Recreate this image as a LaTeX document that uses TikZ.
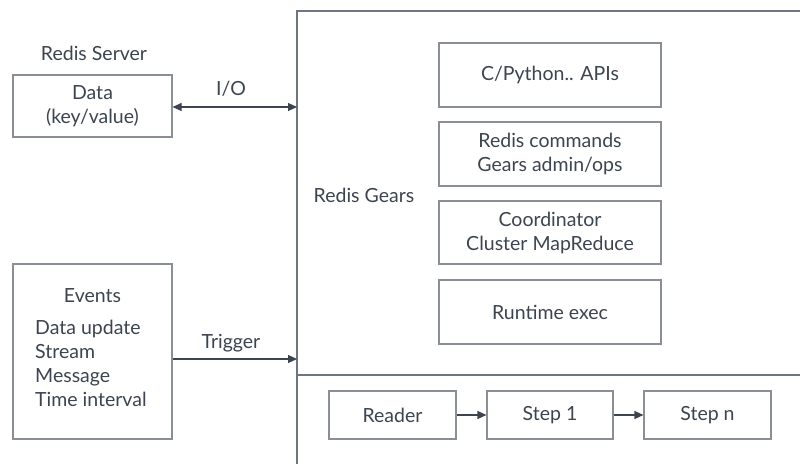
\documentclass[tikz,border=0pt]{standalone}
\usepackage{fontspec}
\setmainfont{Lato}
\usetikzlibrary{arrows.meta}
\definecolor{txt}{HTML}{3C4450}
\definecolor{boxc}{HTML}{8A8F96}
\definecolor{framec}{HTML}{6E7580}
\definecolor{arr}{HTML}{3D4450}
\begin{document}
\begin{tikzpicture}[x=1pt,y=-1pt,
  every node/.style={font=\fontsize{19.5}{24}\selectfont, text=txt},
  bx/.style={draw=boxc, line width=1.1pt, inner sep=0pt, align=center},
  lbl/.style={inner sep=0pt, align=center},
  conn/.style={draw=arr, line width=1.1pt, -{Triangle[length=9pt,width=8pt]}},
  frame/.style={draw=framec, line width=1.2pt}]
\useasboundingbox (0,0) rectangle (800,464);
% big frame
\draw[frame] (800,11) -- (297,11) -- (297,464);
\draw[frame] (297,375) -- (800,375);
\coordinate (ioend) at (297,107);
\coordinate (trend) at (297,359);
% left side
\node[lbl] (rs) at (94,53) {Redis Server};
\node[bx, minimum width=159pt, minimum height=62pt] (data) at (92.5,106) {Data\\(key/value)};
\node[bx, minimum width=159pt, minimum height=175pt] (events) at (92.5,351.5) {};
\node[lbl] (evt) at (92.5,296) {Events};
\node[lbl, align=left, anchor=north west] (evlist) at (35,320) {Data update\\Stream\\Message\\Time interval};
% connectors
\draw[conn, {Triangle[length=9pt,width=8pt]}-{Triangle[length=9pt,width=8pt]}] (data.east |- ioend) -- (ioend);
\node[lbl] (io) at (231,89) {I/O};
\draw[conn] (events.east |- trend) -- (trend);
\node[lbl] (trig) at (231,343) {Trigger};
% gears
\node[lbl] (gears) at (364,195) {Redis Gears};
\node[bx, minimum width=222pt, minimum height=64pt] (api) at (550,75) {C/Python.. APIs};
\node[bx, minimum width=222pt, minimum height=64pt] (cmd) at (550,154) {Redis commands\\Gears admin/ops};
\node[bx, minimum width=222pt, minimum height=63pt] (coord) at (550,232.5) {Coordinator\\Cluster MapReduce};
\node[bx, minimum width=222pt, minimum height=64pt] (rt) at (550,312) {Runtime exec};
% pipeline
\node[bx, minimum width=127pt, minimum height=48pt] (reader) at (392.5,415) {Reader};
\node[bx, minimum width=126pt, minimum height=48pt] (s1) at (550,415) {Step 1};
\node[bx, minimum width=127pt, minimum height=48pt] (sn) at (707.5,415) {Step n};
\draw[conn] (reader) -- (s1);
\draw[conn] (s1) -- (sn);
\end{tikzpicture}
\end{document}
